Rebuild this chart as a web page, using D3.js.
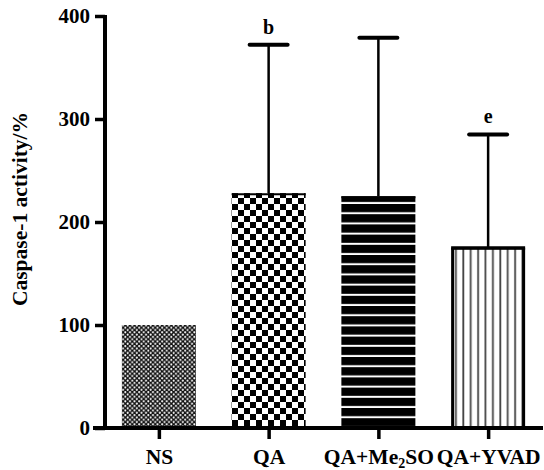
<!DOCTYPE html>
<html>
<head>
<meta charset="utf-8">
<script src="https://cdn.jsdelivr.net/npm/d3@7"></script>
<style>
body { margin: 0; background: #fff; }
text { font-family: "Liberation Serif", "Times New Roman", serif; font-weight: bold; }
</style>
</head>
<body>
<div id="chart"></div>
<script>
var width = 544;
var height = 470;

var categories = ["NS", "QA", "QA+Me2SO", "QA+YVAD"];
var means = [100, 228, 225, 175];
var upper = [100, 372, 379, 285];
var marks = ["", "b", "", "e"];
var yTicks = [0, 100, 200, 300, 400];

var svg = d3.select("#chart").append("svg")
    .attr("width", width)
    .attr("height", height);

var defs = svg.append("defs");

// NS: fine dotted mesh
var p0 = defs.append("pattern").attr("id", "pat0")
    .attr("patternUnits", "userSpaceOnUse").attr("width", 4.6).attr("height", 4.6);
p0.append("rect").attr("width", 4.6).attr("height", 4.6).attr("fill", "#111");
p0.append("circle").attr("cx", 1.15).attr("cy", 1.15).attr("r", 1.05).attr("fill", "#fff");
p0.append("circle").attr("cx", 3.45).attr("cy", 3.45).attr("r", 1.05).attr("fill", "#fff");

// QA: checkerboard
var p1 = defs.append("pattern").attr("id", "pat1")
    .attr("patternUnits", "userSpaceOnUse").attr("width", 12).attr("height", 12)
    .attr("x", 232).attr("y", 0);
p1.append("rect").attr("width", 12).attr("height", 12).attr("fill", "#fff");
p1.append("rect").attr("width", 6).attr("height", 6).attr("fill", "#000");
p1.append("rect").attr("x", 6).attr("y", 6).attr("width", 6).attr("height", 6).attr("fill", "#000");

// Me2SO: horizontal stripes
var p2 = defs.append("pattern").attr("id", "pat2")
    .attr("patternUnits", "userSpaceOnUse").attr("width", 10).attr("height", 10.2);
p2.append("rect").attr("width", 10).attr("height", 10.2).attr("fill", "#fff");
p2.append("rect").attr("width", 10).attr("height", 8.2).attr("fill", "#000");

// YVAD: vertical thin lines
var p3 = defs.append("pattern").attr("id", "pat3")
    .attr("patternUnits", "userSpaceOnUse").attr("width", 7.4).attr("height", 10)
    .attr("x", 451);
p3.append("rect").attr("width", 7.4).attr("height", 10).attr("fill", "#fff");
p3.append("rect").attr("x", 4).attr("width", 1.8).attr("height", 10).attr("fill", "#444");

var x = d3.scalePoint().domain(categories).range([104, 543]).padding(0.5);
var y = d3.scaleLinear().domain([0, 400]).range([428, 16]);
var barW = 74;

// bars
var bars = svg.selectAll(".bar").data(categories).enter().append("g").attr("class", "bar");
bars.append("rect")
    .attr("x", d => x(d) - barW / 2)
    .attr("y", (d, i) => y(means[i]))
    .attr("width", barW)
    .attr("height", (d, i) => y(0) - y(means[i]))
    .attr("fill", (d, i) => "url(#pat" + i + ")");

// YVAD side borders
var iy = 3;
svg.append("path")
    .attr("d", "M" + (x(categories[iy]) - barW / 2 + 1.5) + "," + y(0) + "V" + y(means[iy]) +
        "H" + (x(categories[iy]) + barW / 2 - 1.5) + "V" + y(0))
    .attr("fill", "none").attr("stroke", "#000").attr("stroke-width", 3);

// error bars
categories.forEach(function(c, i) {
    if (upper[i] <= means[i]) return;
    svg.append("line")
        .attr("x1", x(c)).attr("x2", x(c))
        .attr("y1", y(means[i])).attr("y2", y(upper[i]))
        .attr("stroke", "#000").attr("stroke-width", 2.5);
    svg.append("line")
        .attr("x1", x(c) - 19).attr("x2", x(c) + 19)
        .attr("y1", y(upper[i])).attr("y2", y(upper[i]))
        .attr("stroke", "#000").attr("stroke-width", 4).attr("stroke-linecap", "round");
    svg.append("line")
        .attr("x1", x(c) - barW / 2).attr("x2", x(c) + barW / 2)
        .attr("y1", y(means[i]) + 1).attr("y2", y(means[i]) + 1)
        .attr("stroke", "#000").attr("stroke-width", 2);
    if (marks[i]) {
        svg.append("text")
            .attr("x", x(c)).attr("y", y(upper[i]) - 11)
            .attr("text-anchor", "middle")
            .attr("font-size", 20)
            .text(marks[i]);
    }
});

// y axis
var yAxis = svg.append("g")
    .attr("transform", "translate(105,0)")
    .call(d3.axisLeft(y).tickValues(yTicks).tickSize(10).tickPadding(5).tickSizeOuter(0));
yAxis.select(".domain").attr("stroke-width", 4).attr("d", "M0," + (y(400) - 1) + "V" + y(0));
yAxis.selectAll(".tick line").attr("stroke-width", 3.5);
yAxis.selectAll(".tick text").attr("font-size", 21).attr("font-family", "Liberation Serif").attr("font-weight", "bold").attr("fill", "#000");

// x axis
var xAxis = svg.append("g")
    .attr("transform", "translate(0,428)")
    .call(d3.axisBottom(x).tickSize(11).tickPadding(10).tickSizeOuter(0));
xAxis.select(".domain").attr("stroke-width", 4).attr("d", "M93,0H543");
xAxis.selectAll(".tick line").attr("stroke-width", 3.5);
xAxis.selectAll(".tick text").attr("font-size", 21.5).attr("font-family", "Liberation Serif").attr("font-weight", "bold").attr("fill", "#000")
    .each(function(d) {
        if (d === "QA+Me2SO") {
            var t = d3.select(this).text("");
            t.append("tspan").text("QA+Me");
            t.append("tspan").attr("font-size", 14).attr("dy", 4).text("2");
            t.append("tspan").attr("dy", -4).text("SO");
        }
    });

// y label
svg.append("text")
    .attr("transform", "translate(27,209) rotate(-90)")
    .attr("text-anchor", "middle")
    .attr("font-size", 21.5)
    .text("Caspase-1 activity/%");
</script>
</body>
</html>
